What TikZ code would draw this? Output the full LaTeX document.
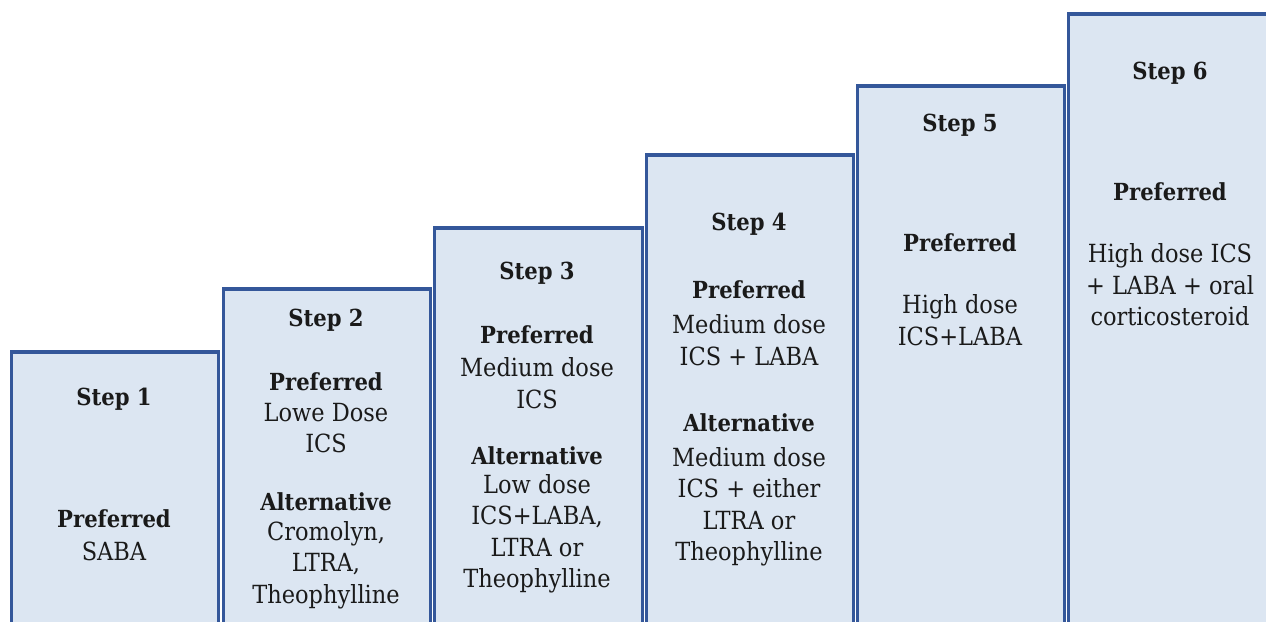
\documentclass[tikz,border=0pt]{standalone}
\usepackage{fontspec}
\setmainfont{DejaVu Serif Condensed}
\definecolor{boxfill}{HTML}{DCE6F2}
\definecolor{boxline}{HTML}{34579A}
\definecolor{txt}{HTML}{1A1A1A}
\begin{document}
\begin{tikzpicture}[x=1pt,y=1pt,
  stepbox/.style={draw=boxline,fill=boxfill,line width=3.2pt,anchor=north west,minimum width=#1,inner sep=0pt},
  head/.style={text=txt,font=\fontsize{23.5}{31}\selectfont\bfseries,align=center,inner sep=0pt},
  body/.style={text=txt,font=\fontsize{25}{31.5}\selectfont,align=center,inner sep=0pt}]
\useasboundingbox (0,0) rectangle (1266,621);
\clip (0,0) rectangle (1266,621);
% boxes (pixel coords: y = 621 - py)
\node[stepbox=207pt,minimum height=290pt] (b1) at (9.5,270.5) {};
\node[stepbox=207pt,minimum height=350pt] (b2) at (221.5,333.5) {};
\node[stepbox=208pt,minimum height=410pt] (b3) at (432.5,394.5) {};
\node[stepbox=207pt,minimum height=480pt] (b4) at (644.5,467.5) {};
\node[stepbox=207pt,minimum height=550pt] (b5) at (855.5,536.5) {};
\node[stepbox=230pt,minimum height=620pt] (b6) at (1066.5,608.5) {};
% step 1
\node[head] (t1) at (114,222) {Step 1};
\node[head] (p1) at (114,102) {Preferred};
\node[body] (p1b) at (114,70) {SABA};
% step 2
\node[head] (t2) at (326,301) {Step 2};
\node[head] (p2) at (326,239) {Preferred};
\node[body] (p2b) at (326,193) {Lowe Dose\\ICS};
\node[head] (a2) at (326,119) {Alternative};
\node[body] (a2b) at (326,56) {Cromolyn,\\LTRA,\\Theophylline};
% step 3
\node[head] (t3) at (537,348) {Step 3};
\node[head] (p3) at (537,286) {Preferred};
\node[body] (p3b) at (537,238) {Medium dose\\ICS};
\node[head] (a3) at (537,165) {Alternative};
\node[body] (a3b) at (537,87) {Low dose\\ICS+LABA,\\LTRA or\\Theophylline};
% step 4
\node[head] (t4) at (749,397) {Step 4};
\node[head] (p4) at (749,331) {Preferred};
\node[body] (p4b) at (749,281) {Medium dose\\ICS + LABA};
\node[head] (a4) at (749,198) {Alternative};
\node[body] (a4b) at (749,114) {Medium dose\\ICS + either\\LTRA or\\Theophylline};
% step 5
\node[head] (t5) at (960,496) {Step 5};
\node[head] (p5) at (960,378) {Preferred};
\node[body] (p5b) at (960,301) {High dose\\ICS+LABA};
% step 6
\node[head] (t6) at (1170,548) {Step 6};
\node[head] (p6) at (1170,429) {Preferred};
\node[body] (p6b) at (1170,336) {High dose ICS\\+ LABA + oral\\corticosteroid};
\end{tikzpicture}
\end{document}
